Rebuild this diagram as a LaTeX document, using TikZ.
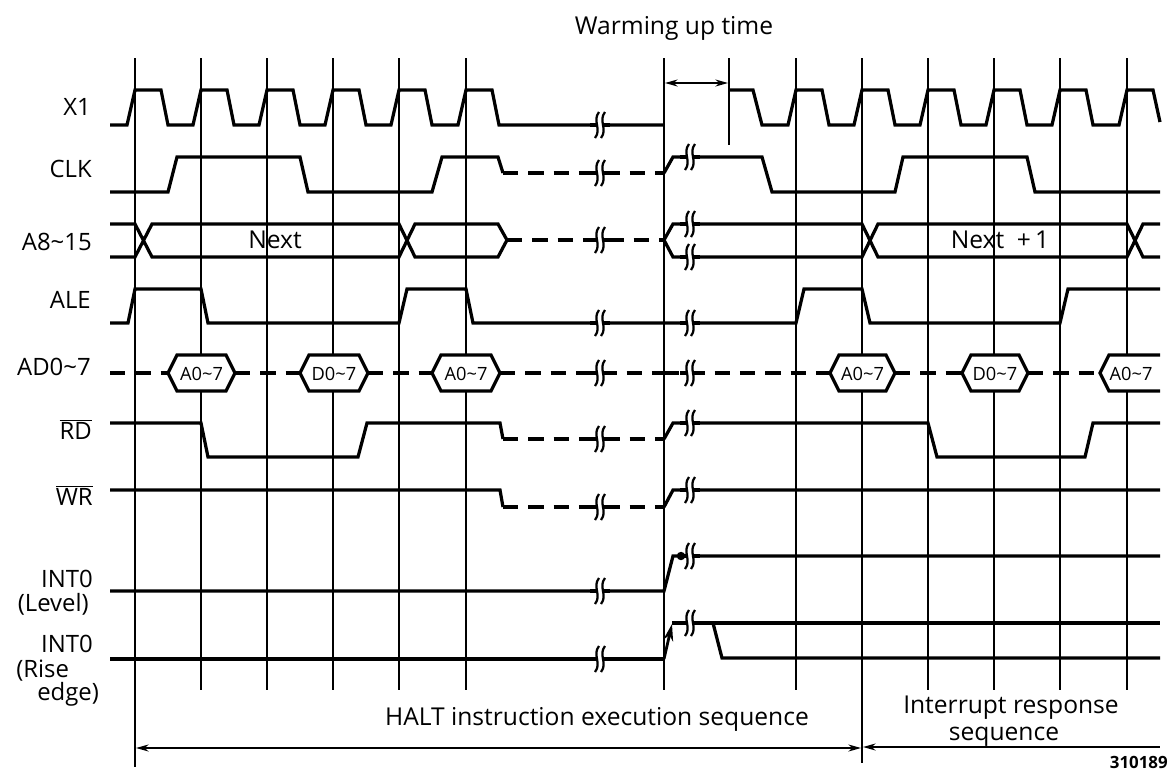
\documentclass[tikz,border=0pt]{standalone}
\usepackage{fontspec}
\setmainfont{Open Sans}
\usetikzlibrary{arrows.meta,positioning}

\begin{document}
\begin{tikzpicture}[x=0.025cm, y=-0.025cm,
    sig/.style={line width=2.3pt},
    bus/.style={line width=2.3pt, dash pattern=on 11pt off 7pt},
    gridline/.style={line width=1.3pt},
    seqspan/.style={line width=1pt, {Stealth[length=9pt,width=5pt]}-{Stealth[length=9pt,width=5pt]}},
    lbl/.style={anchor=base east, inner sep=0pt, font=\fontsize{17}{19}\selectfont},
    seqtext/.style={anchor=base, inner sep=0pt, font=\fontsize{17.5}{19}\selectfont},
    hexlbl/.style={inner sep=0pt, font=\fontsize{13}{15}\selectfont},
    brk/.pic={
      \fill[white] (-4,-13) rectangle (4,13);
      \draw[line width=2.3pt] (-10,0) -- (-4,0) (4,0) -- (10,0);
      \foreach \s in {-3,3}
        \draw[line width=1.6pt] (\s+2,-13) .. controls (\s-5,-4) and (\s+5,4) .. (\s-2,13);
    }]
  \fill[white] (0,0) rectangle (1172,772);
  \useasboundingbox (0,0) rectangle (1172,772);

  \foreach \x in {201,267,333,399,466,664,796,928,994,1060,1127}
    \draw[gridline] (\x,58) -- (\x,690);
  \draw[gridline] (135,58) -- (135,767);
  \draw[gridline] (862,58) -- (862,763);
  \draw[gridline] (729,58) -- (729,145);

  \node[lbl] (lx1) at (91,115) {X1};
  \node[lbl] (lclk) at (92,177) {CLK};
  \node[lbl] (laddr) at (92,250) {A8\textasciitilde15};
  \node[lbl] (lale) at (91,308) {ALE};
  \node[lbl] (lad) at (91,375) {AD0\textasciitilde7};
  \node[lbl] (lrd) at (92,439) {$\overline{\mbox{RD}}$};
  \node[lbl] (lwr) at (93,505) {$\overline{\mbox{WR}}$};
  \node[lbl] (lintl) at (93,587) {INT0};
  \node[lbl] (llevel) at (89,611) {(Level)};
  \node[lbl] (linte) at (93,652) {INT0};
  \node[lbl, anchor=base west] (lrise) at (16,677) {(Rise};
  \node[lbl, anchor=base west] (ledge) at (37,700) {edge)};

  \draw[sig] (110,125) \foreach \t in {135,201,267,333,399,466} { -- (\t-8,125) -- (\t,90) -- (\t+26,90) -- (\t+33,125) } -- (664,125);
  \draw[sig] (729,90) -- (753,90) -- (762,125) \foreach \t in {796,862,928,994,1060} { -- (\t-8,125) -- (\t,90) -- (\t+26,90) -- (\t+33,125) } -- (1119,125) -- (1127,90) -- (1153,90) -- (1160,122);

  \draw[sig] (110,192) -- (168,192) -- (177,157) -- (300,157) -- (308,192) -- (432,192) -- (442,157) -- (498,157) -- (503,173);
  \draw[bus] (503,173) -- (664,173);
  \draw[sig] (664,173) -- (673,157) -- (762,157) -- (772,192) -- (895,192) -- (903,157) -- (1027,157) -- (1035,192) -- (1160,192);

  \draw[sig] (110,224) -- (135,224) -- (152,257) -- (399,257) -- (415,224) -- (498,224) -- (507,240) -- (498,257) -- (415,257) -- (399,224) -- (152,224) -- (135,257) -- (110,257);
  \draw[bus] (507,240) -- (664,240);
  \draw[sig] (1160,224) -- (1143,224) -- (1127,257) -- (878,257) -- (862,224) -- (673,224) -- (664,240) -- (673,257) -- (862,257) -- (878,224) -- (1127,224) -- (1143,257) -- (1160,257);
  \node[seqtext] (tnext) at (275,248) {Next};
  \node[seqtext] (tnext1) at (1000,248) {Next\ \ +\,1};

  \draw[sig] (110,323) -- (128,323) -- (135,289) -- (201,289) -- (208,323) -- (399,323) -- (407,289) -- (466,289) -- (473,323) -- (796,323) -- (804,289) -- (862,289) -- (870,323) -- (1060,323) -- (1068,289) -- (1160,289);

  \foreach \a/\b in {110/168,235/300,368/432,500/664,664/830,895/962,1028/1100}
    \draw[bus] (\a,373) -- (\b,373);
  \foreach \a/\b/\d in {168/235/A,300/368/D,432/500/A,830/895/A,962/1028/D} {
    \draw[sig, fill=white] (\a,373) -- (\a+9,355) -- (\b-9,355) -- (\b,373) -- (\b-9,391) -- (\a+9,391) -- cycle;
    \node[hexlbl] at ({(\a+\b)/2},374) {\d0\textasciitilde7};
  }
  \draw[sig, fill=white] (1160,355) -- (1109,355) -- (1100,373) -- (1109,391) -- (1160,391);
  \node[hexlbl] (thexend) at (1131,374) {A0\textasciitilde7};

  \draw[sig] (110,423) -- (201,423) -- (208,457) -- (358,457) -- (367,423) -- (500,423) -- (503,439);
  \draw[bus] (503,439) -- (664,439);
  \draw[sig] (664,439) -- (673,423) -- (928,423) -- (937,457) -- (1085,457) -- (1093,423) -- (1160,423);

  \draw[sig] (110,490) -- (500,490) -- (503,507);
  \draw[bus] (503,507) -- (664,507);
  \draw[sig] (664,507) -- (673,490) -- (1160,490);

  \draw[sig] (110,591) -- (664,591) -- (673,556) -- (1160,556);

  \draw[sig] (110,659) -- (664,659);
  \draw[sig] (672,623) -- (1160,623);
  \draw[sig] (713,623) -- (722,658) -- (1160,658);

  \foreach \y in {125,173,240,323,373,439,507,591,659}
    \pic at (600,\y) {brk};
  \foreach \y in {157,224,257,323,373,423,490,556,623}
    \pic at (690,\y) {brk};

  \fill (681,556) circle[radius=3pt];
  \coordinate (edgelow) at (664,659);
  \coordinate (edgehigh) at (672,624);
  \draw[line width=2pt, -{Stealth[length=12pt,width=7pt]}] (edgelow) -- (edgehigh);

  \coordinate (wuL) at (665,83);
  \coordinate (wuR) at (728,83);
  \draw[seqspan] (wuL) -- (wuR);
  \node[seqtext] (twarm) at (674,34) {Warming up time};

  \coordinate (haltL) at (136,748);
  \coordinate (haltR) at (861,748);
  \coordinate (irqL) at (863,747);
  \coordinate (irqR) at (1160,747);
  \draw[seqspan] (haltL) -- (haltR);
  \draw[line width=1pt, {Stealth[length=9pt,width=5pt]}-] (irqL) -- (irqR);
  \node[seqtext] (thalt) at (597,725) {HALT instruction execution sequence};
  \node[seqtext] (tirq) at (1011,713) {Interrupt response};
  \node[seqtext] (tirq2) at (1004,740) {sequence};
  \node[anchor=base east, inner sep=0pt, font=\fontsize{12}{14}\selectfont\bfseries] (tnum) at (1168,768) {310189};
\end{tikzpicture}
\end{document}
